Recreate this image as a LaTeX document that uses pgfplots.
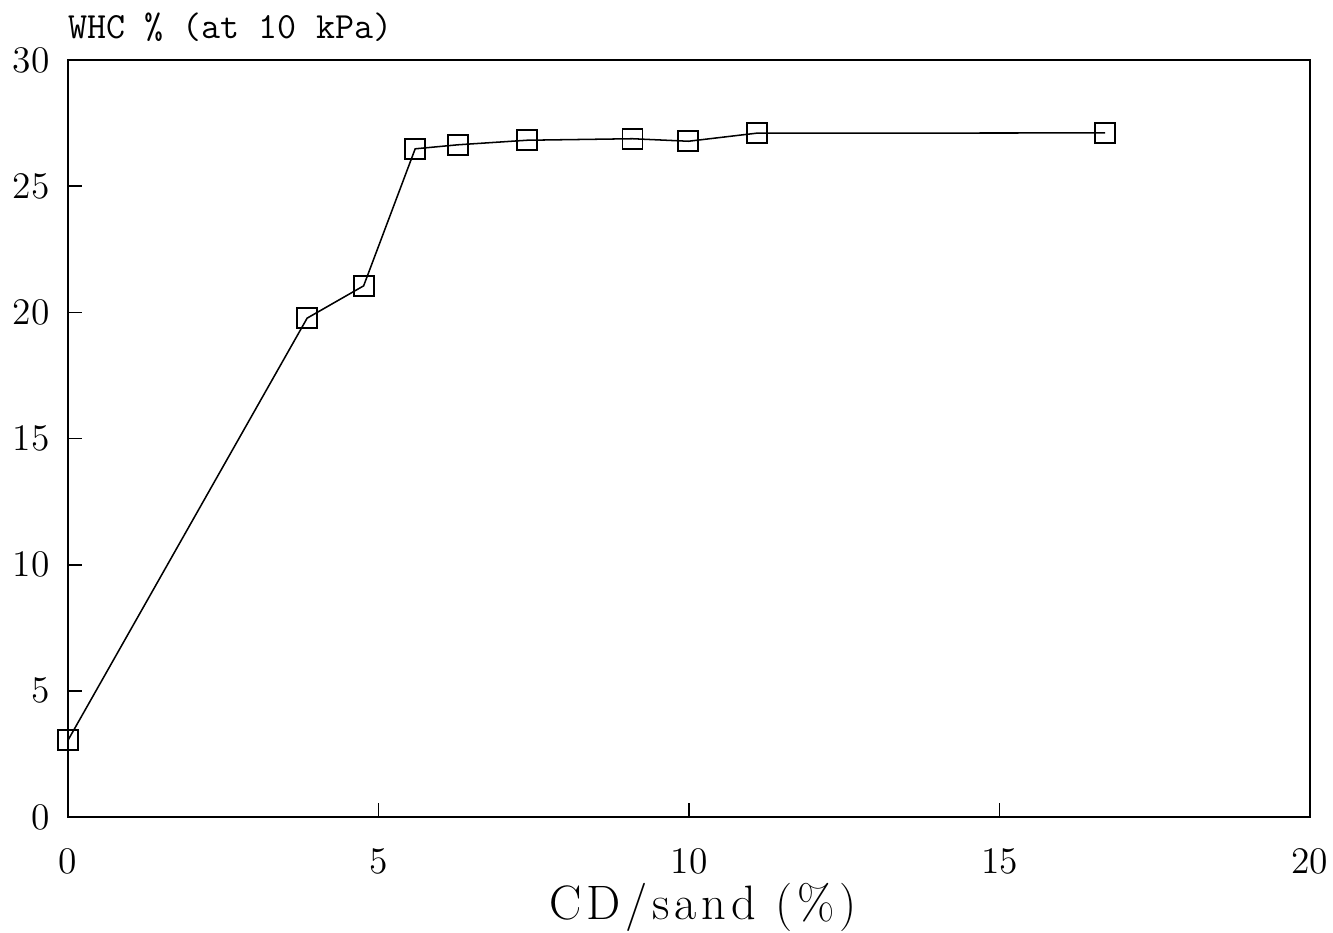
\documentclass[border=0pt]{standalone}
\usepackage{fontspec}
\usepackage{pgfplots}
\pgfplotsset{compat=1.18}
\newfontfamily\spacedrm{Latin Modern Roman}[LetterSpace=10]
\begin{document}
\begin{tikzpicture}
\begin{axis}[
    scale only axis,
    width=447pt, height=272.5pt,
    xmin=0, xmax=20, ymin=0, ymax=30,
    xtick={0,5,...,20}, ytick={0,5,...,30},
    xtick pos=bottom, ytick pos=left,
    tick align=inside,
    major tick length=5pt,
    axis line style={line width=0.65pt},
    tick style={line width=0.6pt, black},
    /pgf/number format/assume math mode=true,
    ticklabel style={font=\fontsize{13.5}{16}\selectfont, inner sep=0pt},
    xticklabel style={anchor=north, yshift=-11pt},
    yticklabel style={anchor=east, xshift=-6.5pt},
    xlabel={CD/sand (\%)},
    xlabel style={font=\spacedrm\fontsize{17.4}{20}\selectfont, inner sep=0pt,
        at={(axis description cs:0.5,0)}, anchor=base, yshift=-37pt, xshift=5pt},
    clip=false,
]
\addplot[black, line width=0.55pt, mark=square, mark size=3.6pt,
    mark options={solid, line width=0.65pt}] coordinates {
    (0,3.05) (3.85,19.77) (4.76,21.05) (5.59,26.48) (6.28,26.64)
    (7.39,26.82) (9.09,26.88) (9.99,26.78) (11.09,27.1) (16.7,27.11)
};
\node[anchor=base west, inner sep=0pt, font=\ttfamily\fontsize{13.3}{16}\selectfont]
    at (rel axis cs:0,1) [yshift=7.9pt] {WHC \% (at 10 kPa)};
\coordinate (bl) at (rel axis cs:0,0);
\coordinate (tr) at (rel axis cs:1,1);
\end{axis}
\pgfresetboundingbox
\path ([shift={(-24.5pt,-41.4pt)}]bl) rectangle ([shift={(8.3pt,21.6pt)}]tr);
\end{tikzpicture}
\end{document}
